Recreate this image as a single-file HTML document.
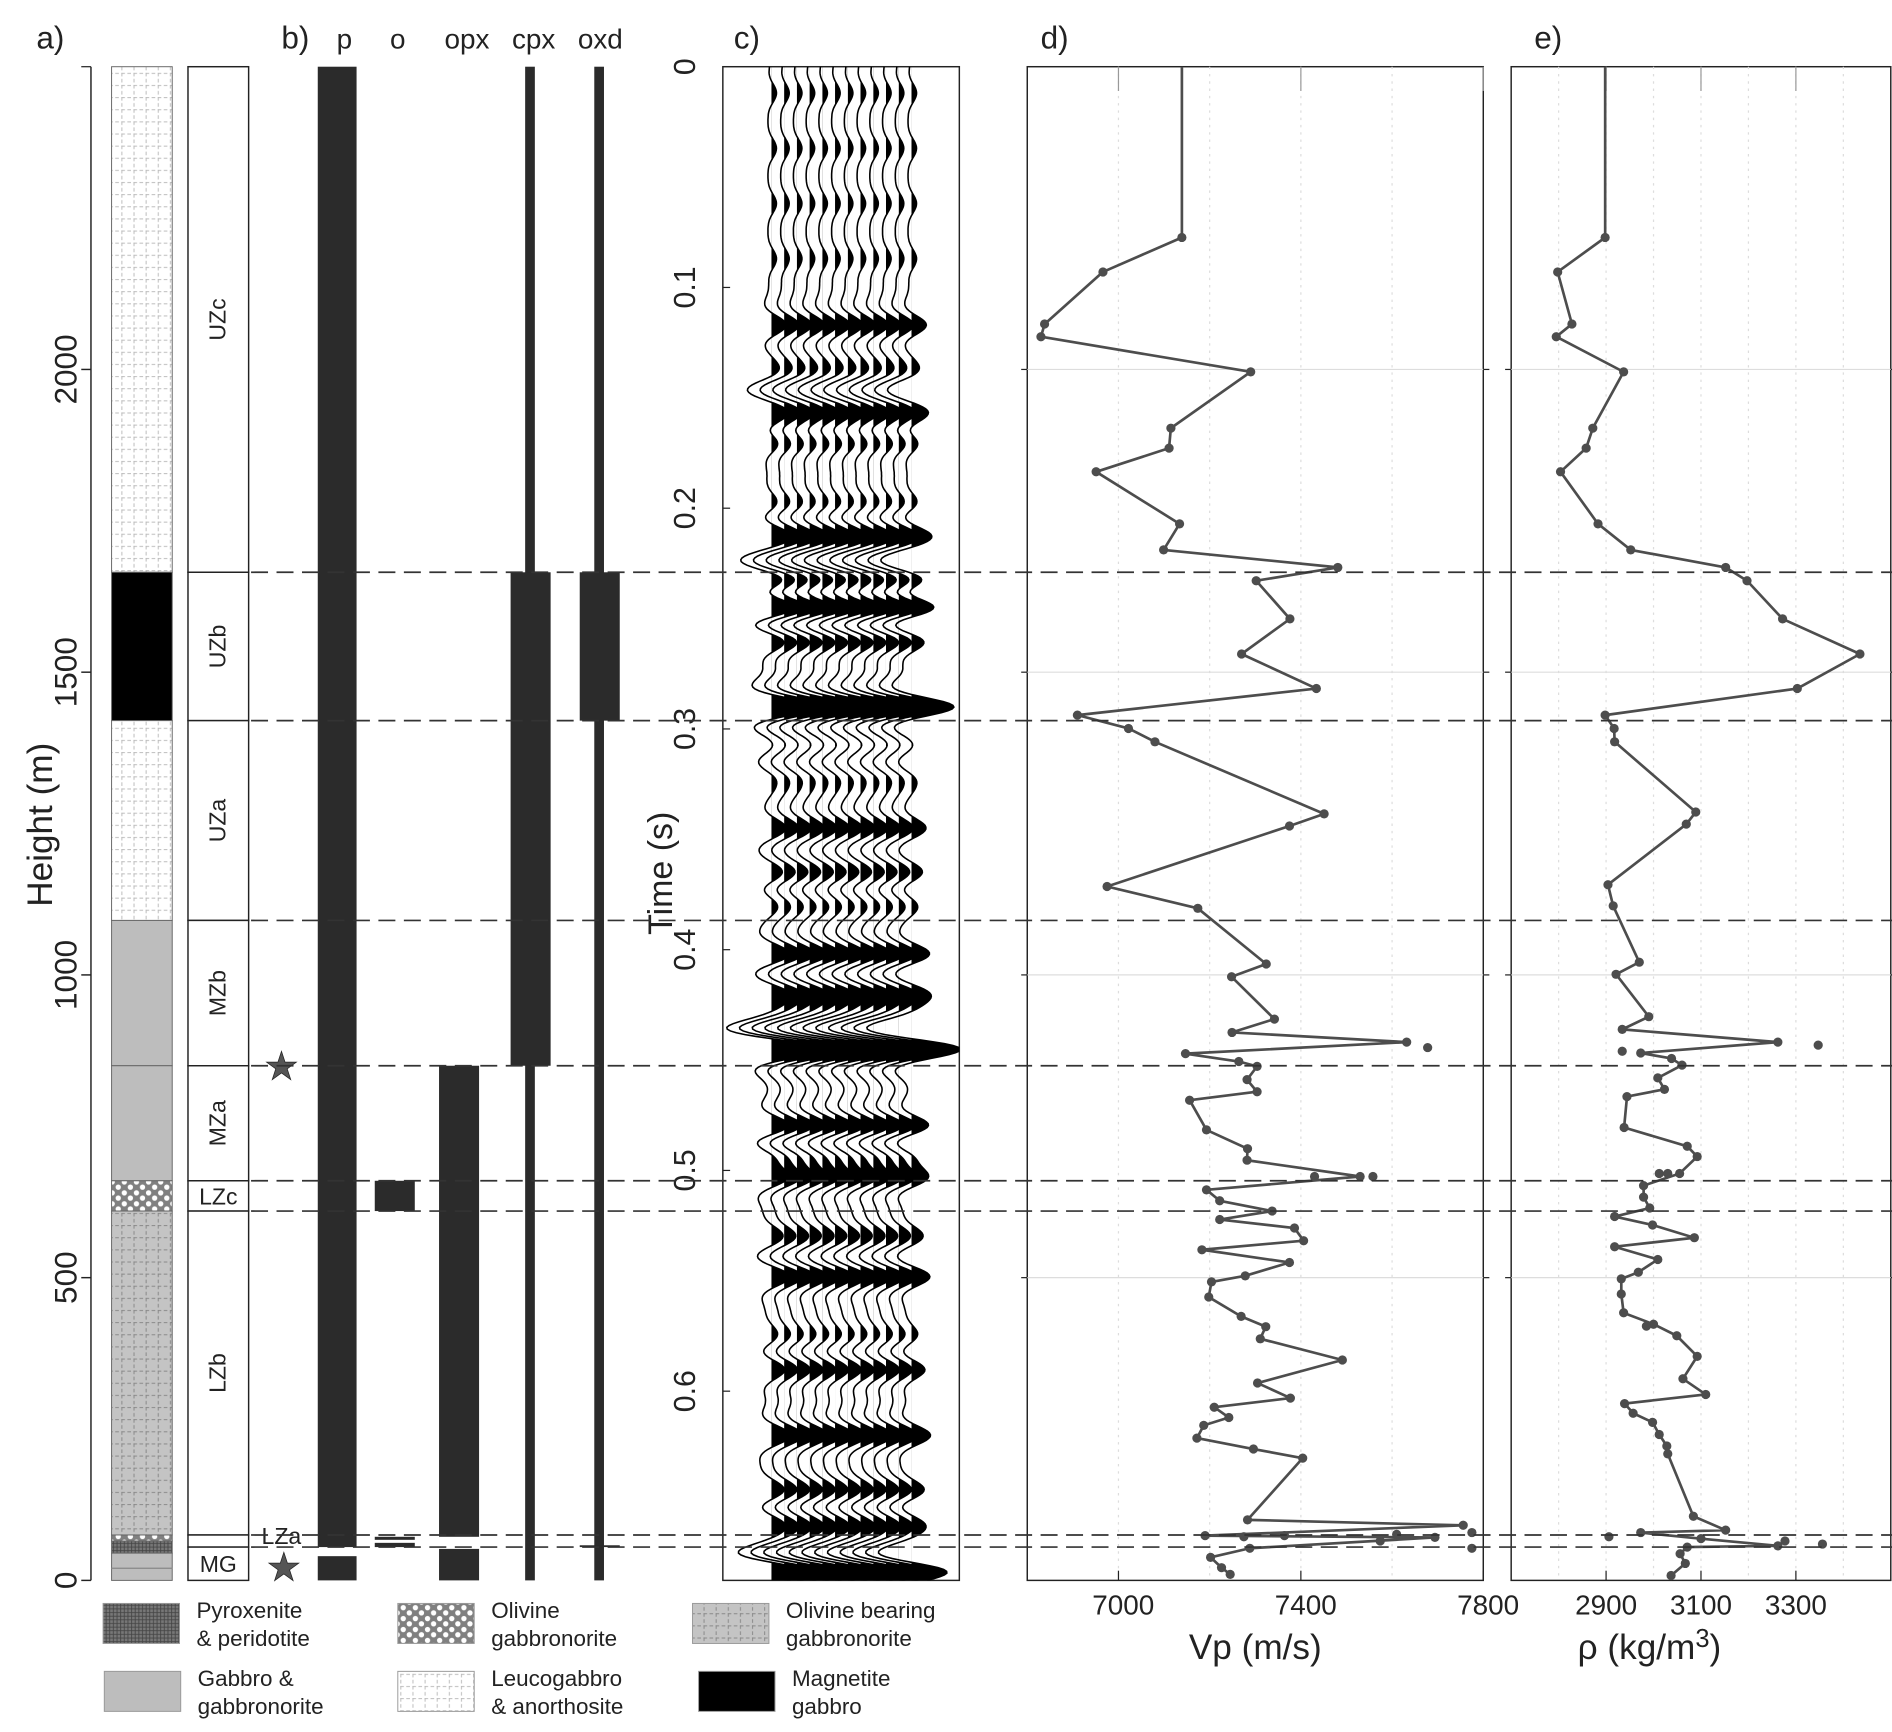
<!DOCTYPE html>
<html><head><meta charset="utf-8">
<style>
html,body{margin:0;padding:0;background:#fff;}
svg{display:block;font-family:"Liberation Sans",sans-serif;}
</style></head>
<body>
<svg id="fig" width="1892" height="1732" viewBox="0 0 1560 1428" preserveAspectRatio="none" xmlns="http://www.w3.org/2000/svg">
<defs>
  <pattern id="leuco" width="10" height="10" patternUnits="userSpaceOnUse">
    <rect width="10" height="10" fill="#fff"/>
    <path d="M0 0.5H10M0.5 0V10" stroke="#bbb" stroke-width="0.8" stroke-dasharray="3 2"/>
  </pattern>
  <pattern id="olb" width="10" height="10" patternUnits="userSpaceOnUse">
    <rect width="10" height="10" fill="#c4c4c4"/>
    <path d="M0 0.5H10M0.5 0V10" stroke="#888" stroke-width="0.8" stroke-dasharray="3 2"/>
  </pattern>
  <pattern id="oliv" width="10" height="9" patternUnits="userSpaceOnUse">
    <rect width="10" height="9" fill="#808080"/>
    <circle cx="2.5" cy="2.5" r="2.2" fill="#fff"/>
    <circle cx="7.5" cy="6.8" r="2.2" fill="#fff"/>
  </pattern>
  <pattern id="pyx" width="3" height="3" patternUnits="userSpaceOnUse">
    <rect width="3" height="3" fill="#777"/>
    <path d="M0 0.5H3M0.5 0V3" stroke="#444" stroke-width="0.7"/>
  </pattern>
</defs>
<g id="root"></g>
</svg>
<script>
// ---------- data ----------
const zoneBounds = [1665, 1420, 1090, 850, 660, 610, 75, 55];
const zoneNames = ["UZc","UZb","UZa","MZb","MZa","LZc","LZb","LZa","MG"];
const zoneTops = [2500,1665,1420,1090,850,660,610,75,55];
const zoneBots = [1665,1420,1090,850,660,610,75,55,0];
const heightTicks = [0,500,1000,1500,2000];
const timeTicks = [0.1,0.2,0.3,0.4,0.5,0.6];
const timeLabels = ["0.1","0.2","0.3","0.4","0.5","0.6"];
const vpTicks = [7000,7400,7800];
const vpGrid = [7000,7200,7400,7600];
const rhoTicks = [2900,3100,3300];
const rhoGrid = [2800,2900,3000,3100,3200,3300,3400];

const vpH = [2218,2161,2075,2054,1996,1903,1870,1831,1745,1702,1673,1651,1588,1530,1473,1429,1407,1385,1266,1246,1146,1110,1018,997,927,905,889,870,857,849,827,807,793,744,713,694,667,645,627,610,596,582,561,546,525,503,493,468,436,419,399,364,326,301,286,269,256,235,217,202,100,91,74,71,53,38,21,10];
const vpVal = [7139,6966,6838,6830,7290,7115,7111,6951,7134,7099,7481,7302,7376,7270,7434,6910,7022,7080,7451,7375,6975,7174,7324,7248,7342,7249,7632,7147,7264,7304,7282,7304,7156,7193,7283,7282,7530,7193,7222,7337,7222,7386,7406,7183,7375,7278,7204,7198,7269,7323,7311,7491,7305,7377,7210,7242,7187,7172,7296,7404,7283,7756,7190,7694,7288,7202,7226,7245];
const vpExtraH = [880,667,667,79,76,74,72,65,53];
const vpExtraVal = [7678,7430,7558,7775,7610,7364,7275,7574,7775];

const rhoH = [2218,2161,2075,2054,1996,1903,1870,1831,1745,1702,1673,1651,1588,1530,1473,1429,1407,1385,1269,1249,1149,1114,1021,1001,931,910,889,871,862,851,830,811,799,748,717,700,672,652,633,615,601,587,566,551,530,509,498,473,442,423,404,370,333,307,292,276,261,241,222,209,106,83,79,69,57,55,44,28,8];
const rhoVal = [2898,2798,2828,2795,2937,2872,2858,2804,2883,2952,3152,3197,3272,3435,3303,2898,2917,2918,3089,3069,2904,2915,2970,2921,2990,2934,3262,2973,3038,3060,3009,3023,2944,2938,3071,3092,3055,2979,2979,2992,2918,2998,3086,2918,3009,2968,2932,2932,2937,3000,3049,3092,3062,3110,2939,2957,2998,3012,3028,3030,3084,3152,2973,3100,3262,3071,3056,3067,3037];
const rhoExtraH = [884,874,672,672,420,72,65,60];
const rhoExtraVal = [3347,2934,3012,3030,2985,2906,3277,3356];

// seismic events: times (s) and relative amplitudes
const evT = [0.012,0.037,0.062,0.087,0.117,0.146,0.158,0.17,0.198,0.212,0.224,0.233,0.245,0.26,0.29,0.315,0.345,0.365,0.38,0.402,0.42,0.436,0.445,0.48,0.494,0.503,0.53,0.548,0.575,0.59,0.62,0.645,0.66,0.675,0.681];
const evA = [0.12,0.12,0.12,0.12,0.35,-0.45,0.3,0.25,0.2,0.35,-0.45,0.3,0.7,0.4,1.0,-0.3,0.35,0.3,0.2,0.45,0.4,-0.6,0.9,0.5,0.45,0.6,0.3,0.45,0.2,0.35,0.45,0.35,0.3,-0.5,0.75];
const traceCount = 12;

// ---------- scales ----------
const yH = h => 1303 - h*0.4992;
const xVp = v => 847 + (v-6800)*0.376;
const xRho = r => 1246 + (r-2700)*0.39125;
const yT = t => 55 + t*1820;

const NS="http://www.w3.org/2000/svg";
const root=document.getElementById('root');
function mk(tag, attrs, parent, txt){
  const e=document.createElementNS(NS,tag);
  for(const k in attrs) e.setAttribute(k,attrs[k]);
  if(txt!==undefined) e.textContent=txt;
  (parent||root).appendChild(e); return e;
}
function label(x,y,txt,size,rot,anchor){
  const t=mk('text',{x:x,y:y,'font-size':size,'text-anchor':anchor||'middle',fill:'#222'},root,txt);
  if(rot) t.setAttribute('transform','rotate('+rot+' '+x+' '+y+')');
  return t;
}

// ---------- panel headers ----------
[["a)",30],["b)",232],["c)",605],["d)",858],["e)",1265]].forEach(p=>{
  const t=label(p[1],40,p[0],26,0,'start');
  
  
});
[["p",284],["o",328],["opx",385],["cpx",440],["oxd",495]].forEach(p=>{
  const t=label(p[1],40,p[0],23);
  
  
});

// ---------- panel a: height axis ----------
let ax=mk('line',{x1:75,y1:55,x2:75,y2:1303,stroke:'#222','stroke-width':1.2});


mk('line',{x1:67,y1:55,x2:75,y2:55,stroke:'#222'});
heightTicks.forEach(h=>{
  mk('line',{x1:67,y1:yH(h),x2:75,y2:yH(h),stroke:'#222','stroke-width':1.2});
  const t=label(63,yH(h),String(h),26,-90);
  
  
});
let ht=label(43,680,"Height (m)",29,-90);



// lithology column
const lithTop=[2500,1665,1420,1090,850,660,610,75,65,45];
const lithBot=[1665,1420,1090,850,660,610,75,65,45,0];
const lithFill=['url(#leuco)','#000','url(#leuco)','#bdbdbd','#bdbdbd','url(#oliv)','url(#olb)','url(#oliv)','url(#pyx)','#bdbdbd'];
lithTop.forEach((t,i)=>{
  const r=mk('rect',{x:92,y:yH(t),width:50,height:yH(lithBot[i])-yH(t),fill:lithFill[i],stroke:'#666','stroke-width':0.8});
  
  
});
mk('line',{x1:92,y1:yH(20),x2:142,y2:yH(20),stroke:'#888'});

// zones column
zoneNames.forEach((z,i)=>{
  const r=mk('rect',{x:155,y:yH(zoneTops[i]),width:50,height:yH(zoneBots[i])-yH(zoneTops[i]),fill:'#fff',stroke:'#222','stroke-width':1.2});
  
  
  const cy=(yH(zoneTops[i])+yH(zoneBots[i]))/2;
  let t;
  if(z==='LZc'){ t=label(180,cy+7,z,19); }
  else if(z==='LZa'){ t=label(232,yH(62)+1,z,19); }
  else if(z==='MG'){ t=label(180,cy+7,z,19); }
  else { t=label(186,cy,z,19,-90); }
  
  
});

// ---------- panel b: minerals ----------
const barX=[262,262,309,309,309,362,362,433,421,490,478,478];
const barW=[32,32,33,33,33,33,33,8,33,8,33,33];
const barTop=[2500,40,660,72,62,850,52,2500,1665,2500,1665,58];
const barBot=[55,0,610,67,55,72,0,0,850,0,1420,55];
barX.forEach((x,i)=>{
  const r=mk('rect',{x:x,y:yH(barTop[i]),width:barW[i],height:yH(barBot[i])-yH(barTop[i]),fill:'#2b2b2b'});
  
  
});
[[232,879],[234,1292]].forEach(s=>{
  const t=mk('text',{x:s[0],y:s[1]+11,'font-size':32,'text-anchor':'middle',fill:'#555',stroke:'#222','stroke-width':0.6},root,'★');
  
  
});

// ---------- panel c: seismic ----------
const cbox=mk('rect',{x:596,y:55,width:195,height:1248,fill:'#fff',stroke:'#222','stroke-width':1.2});


const cclip=mk('clipPath',{id:'cclip'});
mk('rect',{x:596,y:55,width:195,height:1248},cclip);
const f=40, A=35;
function trace(t){
  let s=0;
  for(let k=0;k<evT.length;k++){
    const tau=t-evT[k]; const a=Math.PI*Math.PI*f*f*tau*tau;
    s+=evA[k]*(1-2*a)*Math.exp(-a);
  }
  return s;
}
const samples=[];
for(let y=55;y<=1303;y+=1.5){ samples.push([y,trace((y-55)/1820)]); }
const cg=mk('g',{'clip-path':'url(#cclip)'});
for(let i=0;i<traceCount;i++){
  const base=636+i*10.5;
  const cp=mk('clipPath',{id:'tc'+i});
  mk('rect',{x:base,y:55,width:80,height:1248},cp);
  let pts=samples.map(s=>(base+A*s[1]).toFixed(1)+','+s[0].toFixed(1));
  const fill=mk('polygon',{points:pts.join(' ')+' '+base+',1303 '+base+',55',fill:'#000','clip-path':'url(#tc'+i+')'},cg);
  
  
  const ln=mk('polyline',{points:pts.join(' '),fill:'none',stroke:'#000','stroke-width':1.3},cg);
  
  
}
const t0=label(573,55,"0",25,-90);


timeTicks.forEach((t,i)=>{
  mk('line',{x1:596,y1:yT(t),x2:602,y2:yT(t),stroke:'#222'});
  const l=label(573,yT(t),timeLabels[i],25,-90);
  
  
});
let tt=label(554,720,"Time (s)",28,-90);



// ---------- panels d & e ----------
function panel(x0,x1,name){
  const b=mk('rect',{x:x0,y:55,width:x1-x0,height:1248,fill:'#fff',stroke:'#222','stroke-width':1.2});
  
  
  [500,1000,1500,2000].forEach(h=>{
    mk('line',{x1:x0,y1:yH(h),x2:x1,y2:yH(h),stroke:'#ddd','stroke-width':1});
    mk('line',{x1:x0-5,y1:yH(h),x2:x0,y2:yH(h),stroke:'#222'});
    mk('line',{x1:x1,y1:yH(h),x2:x1+5,y2:yH(h),stroke:'#222'});
  });
}
panel(847,1223,'vp-panel');
vpGrid.forEach(v=>mk('line',{x1:xVp(v),y1:55,x2:xVp(v),y2:1303,stroke:'#ddd','stroke-dasharray':'2 4'}));
vpTicks.forEach(v=>{
  mk('line',{x1:xVp(v),y1:1303,x2:xVp(v),y2:1295,stroke:'#222'});
  mk('line',{x1:xVp(v),y1:55,x2:xVp(v),y2:75,stroke:'#999'});
  const l=label(xVp(v)+4,1331,String(v),23);
  
  
});
let vt=label(1035,1368,"Vp (m/s)",29);



panel(1246,1559,'density-panel');
rhoGrid.forEach(v=>mk('line',{x1:xRho(v),y1:55,x2:xRho(v),y2:1303,stroke:'#ddd','stroke-dasharray':'2 4'}));
rhoTicks.forEach(v=>{
  mk('line',{x1:xRho(v),y1:1303,x2:xRho(v),y2:1295,stroke:'#222'});
  mk('line',{x1:xRho(v),y1:55,x2:xRho(v),y2:75,stroke:'#999'});
  const l=label(xRho(v),1331,String(v),23);
  
  
});
let rt=mk('text',{x:1360,y:1368,'font-size':29,'text-anchor':'middle',fill:'#222'});
rt.innerHTML='ρ (kg/m<tspan dy="-10" font-size="21">3</tspan><tspan dy="10">)</tspan>';



function series(hs,vs,xf,ehs,evs,name){
  let d='M'+xf(vs[0]).toFixed(1)+','+yH(2500).toFixed(1);
  hs.forEach((h,i)=>{ d+=' L'+xf(vs[i]).toFixed(1)+','+yH(h).toFixed(1); });
  const p=mk('path',{d:d,fill:'none',stroke:'#4d4d4d','stroke-width':2.2,'stroke-linejoin':'round'});
  
  
  hs.forEach((h,i)=>{
    const c=mk('circle',{cx:xf(vs[i]),cy:yH(h),r:3.8,fill:'#4d4d4d'});
    
    
  });
  ehs.forEach((h,i)=>{
    const c=mk('circle',{cx:xf(evs[i]),cy:yH(h),r:3.8,fill:'#4d4d4d'});
    
    
  });
}
series(vpH,vpVal,xVp,vpExtraH,vpExtraVal,'vp');
series(rhoH,rhoVal,xRho,rhoExtraH,rhoExtraVal,'rho');

// ---------- dashed zone boundaries ----------
zoneBounds.forEach(h=>{
  const l=mk('line',{x1:207,y1:yH(h),x2:1560,y2:yH(h),stroke:'#333','stroke-width':1.4,'stroke-dasharray':'14 7'});
  
  
});

// ---------- legend ----------
const legX=[85,328,571,86,328,576];
const legY=[1322,1322,1322,1378,1378,1378];
const legFill=['url(#pyx)','url(#oliv)','url(#olb)','#bdbdbd','url(#leuco)','#000'];
const legT1=['Pyroxenite','Olivine','Olivine bearing','Gabbro &','Leucogabbro','Magnetite'];
const legT2=['&  peridotite','gabbronorite','gabbronorite','gabbronorite','& anorthosite','gabbro'];
legX.forEach((x,i)=>{
  const r=mk('rect',{x:x,y:legY[i],width:63,height:33,fill:legFill[i],stroke:'#999','stroke-width':0.8});
  
  
  const t1=label(x+77,legY[i]+12,legT1[i],18.5,0,'start');
  
  
  const t2=label(x+77,legY[i]+35,legT2[i],18.5,0,'start');
  
  
});
</script>
</body></html>
